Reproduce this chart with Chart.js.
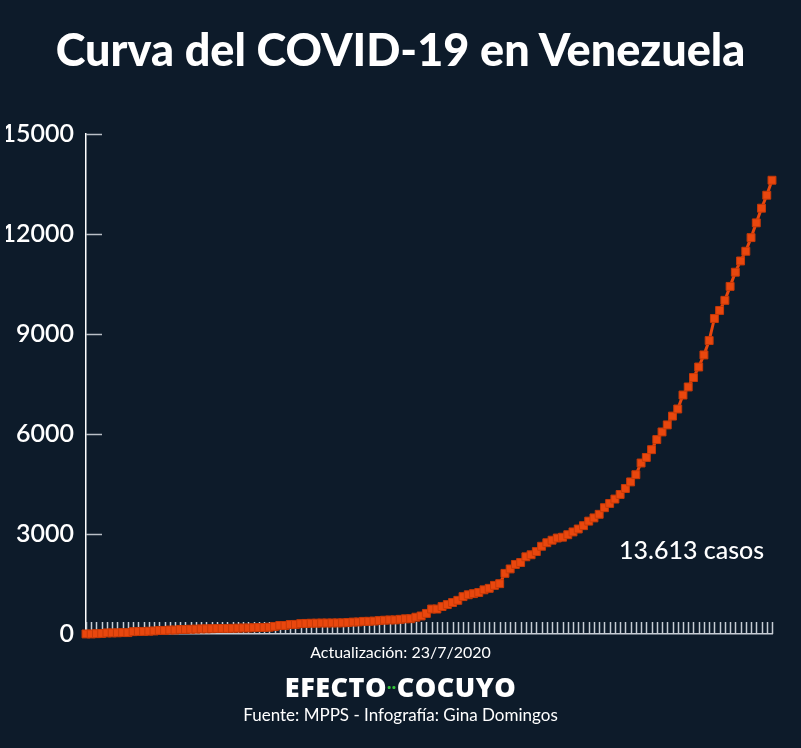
<!DOCTYPE html>
<html lang="es">
<head>
<meta charset="utf-8">
<title>Curva del COVID-19 en Venezuela</title>
<script src="https://cdn.jsdelivr.net/npm/chart.js@4.4.1/dist/chart.umd.min.js"></script>
<style>
  html, body { margin: 0; padding: 0; background: #0d1b2a; }
  #wrap { position: relative; width: 801px; height: 748px; overflow: hidden; }
  #chart { position: absolute; left: 0; top: 0; }
  .txt { position: absolute; color: #fff; white-space: nowrap; font-family: Lato, "Open Sans", sans-serif; }
  #title { left: 0; width: 801px; top: 22px; text-align: center; font-size: 45px; font-weight: 900; }
  #note { left: 619px; top: 534px; font-size: 25px; font-weight: 500; }
  #update { left: 0; width: 801px; top: 642px; text-align: center; font-size: 16px; }
  #brand { left: 0; width: 801px; top: 668px; text-align: center; font-size: 27px; font-weight: 800; font-family: "Open Sans", Lato, sans-serif; letter-spacing: 0.5px; }
  #brand span { color: #35c93a; font-size: 15px; vertical-align: 4px; }
  #source { left: 0; width: 801px; top: 704px; text-align: center; font-size: 17px; }
</style>
</head>
<body>
<div id="wrap">
  <canvas id="chart" width="801" height="748"></canvas>
  <div class="txt" id="title">Curva del COVID-19 en Venezuela</div>
  <div class="txt" id="note">13.613 casos</div>
  <div class="txt" id="update">Actualización: 23/7/2020</div>
  <div class="txt" id="brand">EFECTO<span>··</span>COCUYO</div>
  <div class="txt" id="source">Fuente: MPPS - Infografía: Gina Domingos</div>
</div>
<script>
// dias (14/3 al 23/7)
const marzo = ["14/3","15/3","16/3","17/3","18/3","19/3","20/3","21/3","22/3","23/3","24/3","25/3","26/3","27/3","28/3","29/3","30/3","31/3"];
const abril = ["1/4","2/4","3/4","4/4","5/4","6/4","7/4","8/4","9/4","10/4","11/4","12/4","13/4","14/4","15/4","16/4","17/4","18/4","19/4","20/4","21/4","22/4","23/4","24/4","25/4","26/4","27/4","28/4","29/4","30/4"];
const mayo = ["1/5","2/5","3/5","4/5","5/5","6/5","7/5","8/5","9/5","10/5","11/5","12/5","13/5","14/5","15/5","16/5","17/5","18/5","19/5","20/5","21/5","22/5","23/5","24/5","25/5","26/5","27/5","28/5","29/5","30/5","31/5"];
const junio = ["1/6","2/6","3/6","4/6","5/6","6/6","7/6","8/6","9/6","10/6","11/6","12/6","13/6","14/6","15/6","16/6","17/6","18/6","19/6","20/6","21/6","22/6","23/6","24/6","25/6","26/6","27/6","28/6","29/6","30/6"];
const julio = ["1/7","2/7","3/7","4/7","5/7","6/7","7/7","8/7","9/7","10/7","11/7","12/7","13/7","14/7","15/7","16/7","17/7","18/7","19/7","20/7","21/7","22/7","23/7"];
const dias = [...marzo, ...abril, ...mayo, ...junio, ...julio];

// casos acumulados
const casosMarzo = [2, 2, 10, 17, 33, 33, 36, 42, 42, 70, 77, 77, 84, 91, 107, 107, 119, 119];
const casosAbril = [135, 135, 143, 146, 153, 155, 159, 165, 166, 167, 171, 175, 181, 181, 189, 193, 197, 204, 227, 256,
  256, 285, 288, 311, 318, 323, 325, 329, 329, 331];
const casosMayo = [333, 335, 345, 357, 361, 379, 381, 388, 402, 414, 422, 423, 440, 455, 459, 504, 541, 618, 749, 749,
  824, 882, 944, 1010, 1121, 1177, 1211, 1245, 1325, 1370, 1459];
const casosJunio = [1510, 1819, 1952, 2087, 2145, 2316, 2377, 2473, 2632, 2738, 2814, 2879, 2904, 2978, 3062, 3150, 3250, 3386, 3483, 3591,
  3789, 3917, 4048, 4186, 4365, 4563, 4779, 5130, 5297, 5530];
const casosJulio = [5832, 6062, 6273, 6537, 6750, 7169, 7411, 7693, 8010, 8372, 8803, 9465, 9707, 10010, 10428, 10854, 11191, 11483, 11891, 12334,
  12774, 13164, 13613];
const casos = [...casosMarzo, ...casosAbril, ...casosMayo, ...casosJunio, ...casosJulio];

const ticksY = [0, 3000, 6000, 9000, 12000, 15000];

const naranja = "#e9470e";

// marcas cortas de los ejes, dibujadas dentro del area
const marcasEjes = {
  id: "marcasEjes",
  beforeDatasetsDraw(chart) {
    const { ctx, chartArea, scales } = chart;
    ctx.save();
    ctx.lineWidth = 1.5;
    ctx.strokeStyle = "#c6ccd4";
    dias.forEach((d, i) => {
      const px = Math.round(scales.x.getPixelForValue(i)) + 0.5;
      ctx.beginPath();
      ctx.moveTo(px, chartArea.bottom - 12);
      ctx.lineTo(px, chartArea.bottom);
      ctx.stroke();
    });
    ctx.strokeStyle = "#b9bfc7";
    ticksY.forEach((v) => {
      if (v === 0) return;
      const py = Math.round(scales.y.getPixelForValue(v)) + 0.5;
      ctx.beginPath();
      ctx.moveTo(chartArea.left, py);
      ctx.lineTo(chartArea.left + 16, py);
      ctx.stroke();
    });
    ctx.restore();
  },
};

const ctx = document.getElementById("chart");
new Chart(ctx, {
  type: "line",
  data: {
    labels: dias,
    datasets: [
      {
        label: "Casos",
        data: casos,
        borderColor: naranja,
        borderWidth: 3,
        backgroundColor: naranja,
        pointStyle: "rect",
        pointRadius: 5.6,
        pointBackgroundColor: naranja,
        pointBorderColor: "#c73a08",
        pointBorderWidth: 1,
        tension: 0,
        fill: false,
        clip: false,
      },
    ],
  },
  options: {
    responsive: false,
    animation: false,
    events: [],
    layout: {
      padding: { left: 6, right: 29, top: 134, bottom: 106 },
    },
    plugins: {
      legend: { display: false },
      tooltip: { enabled: false },
    },
    scales: {
      x: {
        ticks: { display: false, autoSkip: false },
        grid: { display: false },
        border: { display: true, color: "#c6ccd4", width: 1.5 },
      },
      y: {
        min: 0,
        max: 15000,
        afterBuildTicks: (scale) => {
          scale.ticks = ticksY.map((v) => ({ value: v }));
        },
        afterFit: (scale) => {
          scale.width = 80;
        },
        ticks: {
          color: "#ffffff",
          padding: 12,
          font: { family: "Lato", size: 25, weight: "600" },
          callback: (v) => String(v),
        },
        grid: { display: false, drawTicks: false },
        border: { display: true, color: "#ffffff", width: 1.5 },
      },
    },
  },
  plugins: [marcasEjes],
});
</script>
</body>
</html>
